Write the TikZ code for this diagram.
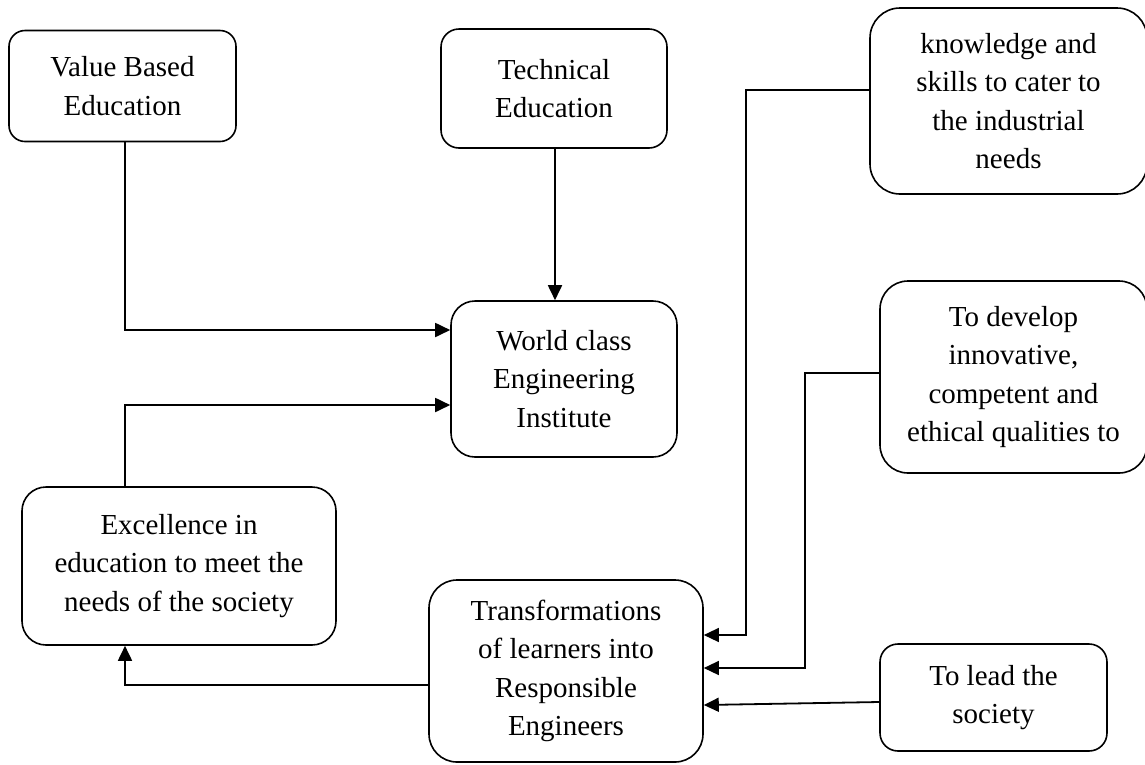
\documentclass[tikz,border=0pt]{standalone}
\usepackage{fontspec}
\setmainfont{Liberation Serif}
\usetikzlibrary{arrows.meta}
\tikzset{
  box/.style={draw, line width=1.6pt, rounded corners=#1, align=center, inner sep=0pt,
    font=\fontsize{29}{38.5}\selectfont},
  box/.default=20pt,
  conn/.style={line width=1.8pt, -{Triangle[length=15pt,width=14pt]}},
  thinconn/.style={line width=1.3pt, -{Triangle[length=15pt,width=14pt]}}
}
\begin{document}
\begin{tikzpicture}[x=1pt,y=-1pt]
\useasboundingbox (0,0) rectangle (1145,764);
\clip (0,0) rectangle (1145,764);
\node[box=16pt, minimum width=227pt, minimum height=111pt] (vbe) at (122.5,86) {Value Based\\Education};
\node[box=18pt, minimum width=226pt, minimum height=119pt] (te) at (554,88.5) {Technical\\Education};
\node[box=30pt, minimum width=277pt, minimum height=186pt] (kn) at (1008.5,101) {knowledge and\\skills to cater to\\the industrial\\needs};
\node[box=28pt, minimum width=267pt, minimum height=192pt] (dev) at (1013.5,377) {To develop\\innovative,\\competent and\\ethical qualities to};
\node[box=24pt, minimum width=226pt, minimum height=156pt] (wc) at (564,379) {World class\\Engineering\\Institute};
\node[box=24pt, minimum width=314pt, minimum height=158pt] (exc) at (179,566) {Excellence in\\education to meet the\\needs of the society};
\node[box=28pt, minimum width=274pt, minimum height=182pt] (tr) at (566,671) {Transformations\\of learners into\\Responsible\\Engineers};
\node[box=18pt, minimum width=227pt, minimum height=107pt] (lead) at (993.5,697.5) {To lead the\\society};

\coordinate (c1) at (125,330);
\coordinate (c2) at (125,405);
\coordinate (c3) at (125,685);
\coordinate (c4) at (746,90);
\coordinate (c5) at (746,635);
\coordinate (c6) at (805,373);
\coordinate (c7) at (805,668);

\draw[conn] (vbe.south -| c1) -- (c1) -- (c1 -| wc.west);
\draw[conn] (te.south -| 555,0) -- (wc.north -| 555,0);
\draw[conn] (exc.north -| c2) -- (c2) -- (c2 -| wc.west);
\draw[conn] (tr.west |- c3) -- (c3) -- (exc.south -| c3);
\draw[thinconn] (kn.west |- c4) -- (c4) -- (c5) -- (c5 -| tr.east);
\draw[thinconn] (dev.west |- c6) -- (c6) -- (c7) -- (c7 -| tr.east);
\draw[conn] (lead.west |- 0,702) -- (tr.east |- 0,705);
\end{tikzpicture}
\end{document}
